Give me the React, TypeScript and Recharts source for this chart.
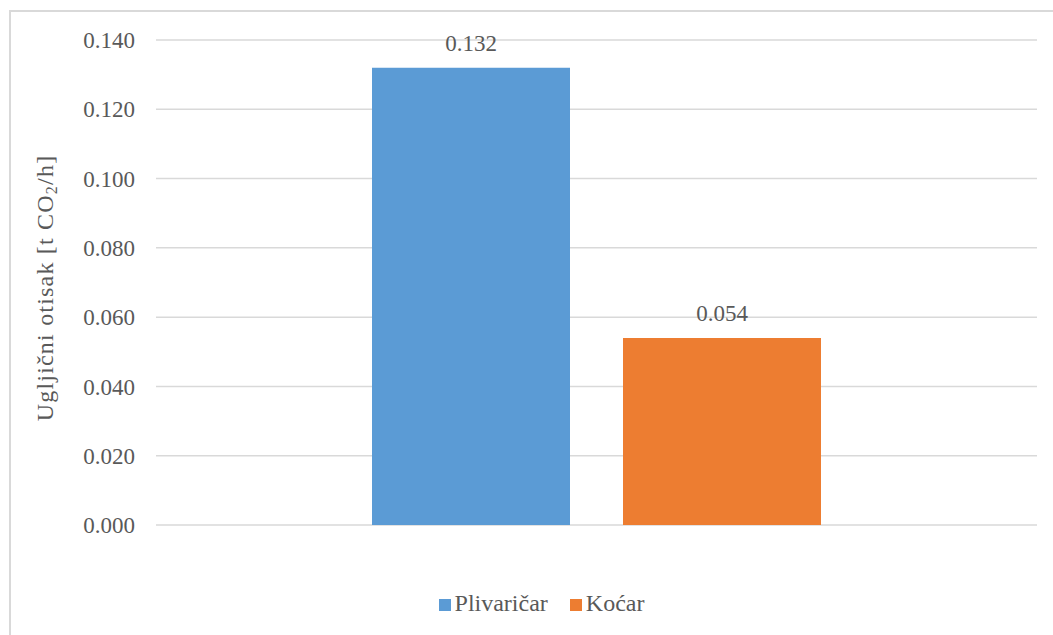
import { Bar, BarChart, CartesianGrid, LabelList, Legend, XAxis, YAxis } from 'recharts';

const categories = ['Ugljični otisak'];
const plivaricar = [0.132];
const kocar = [0.054];
const yTicks = [0, 0.02, 0.04, 0.06, 0.08, 0.1, 0.12, 0.14];
const seriesOrder = ['Plivaričar', 'Koćar'];

const data = categories.map((name, i) => ({ name, Plivaričar: plivaricar[i], Koćar: kocar[i] }));

const FONT = '"Liberation Serif", "Times New Roman", serif';
const TEXT = '#595959';

function AxisTitle() {
  const cx = 45;
  const cy = 288;
  return (
    <text
      x={cx}
      y={cy}
      transform={`rotate(-90, ${cx}, ${cy})`}
      textAnchor="middle"
      dominantBaseline="central"
      fill={TEXT}
      fontSize={24}
      letterSpacing={1.2}
      fontFamily={FONT}
    >
      <tspan>Ugljični otisak [t CO</tspan>
      <tspan fontSize={16} dy={6}>2</tspan>
      <tspan dy={-6}>/h]</tspan>
    </text>
  );
}

export default function App() {
  return (
    <div style={{ position: 'absolute', left: 0, top: 0, width: 1053, height: 635, overflow: 'hidden', background: '#fff' }}>
      <div
        style={{
          position: 'absolute',
          left: 9,
          top: 10,
          width: 1100,
          height: 700,
          border: '2px solid #d9d9d9',
          boxSizing: 'border-box',
        }}
      />
      <div style={{ position: 'absolute', left: 0, top: 0 }}>
        <BarChart
          width={1053}
          height={635}
          data={data}
          margin={{ top: 40, right: 16, bottom: 83, left: 0 }}
          barCategoryGap={216}
          barGap={53}
          style={{ fontFamily: FONT }}
        >
          <CartesianGrid vertical={false} stroke="#d9d9d9" strokeWidth={1.5} />
          <XAxis dataKey="name" hide />
          <YAxis
            width={156}
            domain={[0, 0.14]}
            ticks={yTicks}
            axisLine={false}
            tickLine={false}
            tickSize={0}
            tickMargin={21}
            tickFormatter={(v: number) => v.toFixed(3)}
            tick={{ fill: TEXT, fontSize: 23, fontFamily: FONT }}
            label={<AxisTitle />}
          />
          <Legend
            verticalAlign="bottom"
            align="center"
            iconType="square"
            iconSize={12}
            itemSorter={(item: any) => seriesOrder.indexOf(item.value)}
            wrapperStyle={{ top: 590, left: 20, width: 1053, fontFamily: FONT, fontSize: 24 }}
            formatter={(v: string) => (
              <span style={{ color: TEXT, marginRight: v === seriesOrder[0] ? 12 : 0 }}>{v}</span>
            )}
          />
          <Bar dataKey="Plivaričar" fill="#5b9bd5" isAnimationActive={false}>
            <LabelList
              dataKey="Plivaričar"
              position="top"
              offset={17}
              formatter={(v: any) => Number(v).toFixed(3)}
              style={{ fill: TEXT, fontSize: 23, fontFamily: FONT }}
            />
          </Bar>
          <Bar dataKey="Koćar" fill="#ed7d31" isAnimationActive={false}>
            <LabelList
              dataKey="Koćar"
              position="top"
              offset={17}
              formatter={(v: any) => Number(v).toFixed(3)}
              style={{ fill: TEXT, fontSize: 23, fontFamily: FONT }}
            />
          </Bar>
        </BarChart>
      </div>
    </div>
  );
}
